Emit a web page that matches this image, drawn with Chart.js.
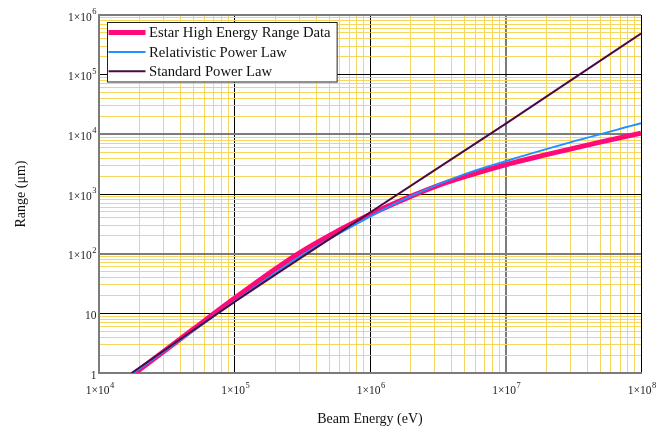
<!DOCTYPE html>
<html lang="en">
<head>
<meta charset="UTF-8">
<title>Range vs Beam Energy</title>
<script src="https://cdn.jsdelivr.net/npm/chart.js@4.4.0/dist/chart.umd.min.js"></script>
</head>
<body style="margin: 0; background: #fff;">
<canvas id="myChart" width="669" height="434"></canvas>
<script>
// values: beam energy (eV) -> range (um)
const estarE = [1.85e4, 3e4, 5e4, 1e5, 2e5, 3e5, 5e5, 1e6, 2e6, 3.3e6, 5e6, 1e7, 2e7, 5e7, 1e8];
const estarR = [1, 2.3, 5.5, 17.8, 55, 102, 200, 452, 912, 1430, 1950, 3090, 4560, 7410, 10470];

const relE = [1.8e4, 1e5, 3e5, 1e6, 2e6, 5e6, 1e7, 3e7, 1e8];
const relR = [1, 15.7, 88, 417, 920, 2150, 3550, 7330, 15300];

const stdE = [1.74e4, 1e5, 1e6, 1e7, 1e8];
const stdR = [1, 15.5, 490, 15000, 490000];

const seriesNames = ['Estar High Energy Range Data', 'Relativistic Power Law', 'Standard Power Law'];

// tick labels, "^" marks the exponent
const xDecades = [1e4, 1e5, 1e6, 1e7, 1e8];
const xTickLabels = ['1×10^4', '1×10^5', '1×10^6', '1×10^7', '1×10^8'];
const yDecades = [1, 10, 100, 1e3, 1e4, 1e5, 1e6];
const yTickLabels = ['1', '10', '1×10^2', '1×10^3', '1×10^4', '1×10^5', '1×10^6'];

// which decade lines look grey (thicker) and which black
const greyX = [1e4, 1e7];
const greyY = [1, 1e2, 1e4, 1e6];

const serif = '"Liberation Serif", "Times New Roman", serif';
const baseFont = '11.5px ' + serif;
const supFont = '8.5px ' + serif;

function pts(xs, ys) {
    return xs.map((x, i) => ({x: x, y: ys[i]}));
}

// 1..9 per decade, like the mathcad grid
function logTicks(min, max) {
    const t = [];
    for (let d = min; d < max; d *= 10) {
        for (let k = 1; k < 10; k++) t.push({value: k * d});
    }
    t.push({value: max});
    return t;
}

function gridColor(v, decades, grey) {
    if (decades.indexOf(v) < 0) return '#f6d75e';
    return grey.indexOf(v) >= 0 ? '#7c7c7c' : '#000000';
}
function gridWidth(v, decades, grey) {
    if (decades.indexOf(v) < 0) return 1;
    return grey.indexOf(v) >= 0 ? 2 : 1;
}

// draws "1×10" + raised exponent; align 'center' or 'right'
function drawPowLabel(ctx, label, x, y, align) {
    const parts = label.split('^');
    ctx.font = baseFont;
    const wb = ctx.measureText(parts[0]).width;
    let we = 0;
    if (parts[1]) {
        ctx.font = supFont;
        we = ctx.measureText(parts[1]).width + 0.5;
    }
    const total = wb + we;
    let x0 = align === 'center' ? x - total / 2 : x - total;
    ctx.textAlign = 'left';
    ctx.textBaseline = 'alphabetic';
    ctx.font = baseFont;
    ctx.fillText(parts[0], x0, y);
    if (parts[1]) {
        ctx.font = supFont;
        ctx.fillText(parts[1], x0 + wb + 0.5, y - 6.5);
    }
}

const tickText = {
    id: 'tickText',
    afterDraw(chart) {
        const ctx = chart.ctx;
        const xs = chart.scales.x, ys = chart.scales.y;
        const area = chart.chartArea;
        ctx.save();
        ctx.fillStyle = '#222';
        xDecades.forEach((v, i) => {
            drawPowLabel(ctx, xTickLabels[i], xs.getPixelForValue(v) + 1, area.bottom + 21, 'center');
        });
        yDecades.forEach((v, i) => {
            drawPowLabel(ctx, yTickLabels[i], area.left - 2.5, ys.getPixelForValue(v) + 5.5, 'right');
        });
        ctx.restore();
    }
};

// legend drawn as a boxed panel inside the plot
const boxLegend = {
    id: 'boxLegend',
    afterDraw(chart) {
        const ctx = chart.ctx;
        const ds = chart.data.datasets;
        ctx.save();
        ctx.font = '14.7px ' + serif;
        let w = 0;
        ds.forEach(d => { w = Math.max(w, ctx.measureText(d.label).width); });
        const x0 = 107.5, y0 = 22.5, rowH = 19.4;
        const boxW = 42 + w + 6, boxH = 59.5;
        ctx.fillStyle = '#fff';
        ctx.fillRect(x0, y0, boxW, boxH);
        ctx.strokeStyle = '#222';
        ctx.lineWidth = 1;
        ctx.strokeRect(x0, y0, boxW, boxH);
        ds.forEach((d, i) => {
            const y = y0 + 10 + i * rowH;
            ctx.beginPath();
            ctx.strokeStyle = d.borderColor;
            ctx.lineWidth = d.borderWidth;
            ctx.moveTo(x0 + 1, y);
            ctx.lineTo(x0 + 38, y);
            ctx.stroke();
            ctx.fillStyle = '#111';
            ctx.textBaseline = 'middle';
            ctx.fillText(d.label, x0 + 41.5, y + 1);
        });
        ctx.restore();
    }
};

const config = {
    type: 'scatter',
    data: {
        datasets: [{
            label: seriesNames[0],
            data: pts(estarE, estarR),
            borderColor: '#ff0a78',
            backgroundColor: '#ff0a78',
            borderWidth: 5,
            order: 3
        }, {
            label: seriesNames[1],
            data: pts(relE, relR),
            borderColor: '#1e90ff',
            backgroundColor: '#1e90ff',
            borderWidth: 2,
            order: 2
        }, {
            label: seriesNames[2],
            data: pts(stdE, stdR),
            borderColor: '#4a0a44',
            backgroundColor: '#4a0a44',
            borderWidth: 2,
            order: 1
        }]
    },
    options: {
        responsive: false,
        animation: false,
        showLine: true,
        elements: {
            point: {radius: 0, hoverRadius: 0},
            line: {cubicInterpolationMode: 'monotone'}
        },
        layout: {padding: {top: 15, right: 28, left: 0, bottom: 0}},
        plugins: {
            legend: {display: false},
            tooltip: {enabled: false}
        },
        scales: {
            x: {
                type: 'logarithmic',
                min: 1e4,
                max: 1e8,
                afterBuildTicks: s => { s.ticks = logTicks(1e4, 1e8); },
                afterFit: s => { s.height = 61; },
                ticks: {display: false, autoSkip: false},
                grid: {
                    drawTicks: false,
                    color: c => gridColor(c.tick.value, xDecades, greyX),
                    lineWidth: c => gridWidth(c.tick.value, xDecades, greyX)
                },
                border: {color: '#7c7c7c', width: 2},
                title: {
                    display: true,
                    text: 'Beam Energy (eV)',
                    color: '#111',
                    font: {family: serif, size: 14},
                    padding: {top: 6, bottom: 6}
                }
            },
            y: {
                type: 'logarithmic',
                min: 1,
                max: 1e6,
                afterBuildTicks: s => { s.ticks = logTicks(1, 1e6); },
                afterFit: s => { s.width = 99; },
                ticks: {display: false, autoSkip: false},
                grid: {
                    drawTicks: false,
                    color: c => gridColor(c.tick.value, yDecades, greyY),
                    lineWidth: c => gridWidth(c.tick.value, yDecades, greyY)
                },
                border: {color: '#7c7c7c', width: 2},
                title: {
                    display: true,
                    text: 'Range (μm)',
                    color: '#111',
                    font: {family: serif, size: 14},
                    padding: {top: 13, bottom: 13}
                }
            }
        }
    },
    plugins: [tickText, boxLegend]
};

const myChart = new Chart(document.getElementById('myChart'), config);
</script>
</body>
</html>
